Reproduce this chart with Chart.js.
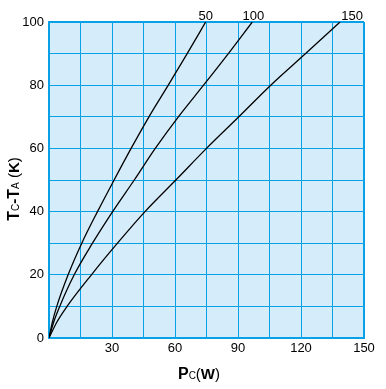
<!DOCTYPE html>
<html>
<head>
<meta charset="utf-8">
<script src="https://cdn.jsdelivr.net/npm/chart.js@4"></script>
<style>
    html, body { margin: 0; padding: 0; background: #fff; }
    #wrap { width: 386px; height: 389px; }
</style>
</head>
<body>
<div id="wrap"><canvas id="chart"></canvas></div>
<script>
// Data
const tempRise = [0, 5, 10, 20, 30, 40, 50, 60, 70, 80, 90, 100];
const power50 = [0, 1.6, 3.7, 9.1, 15.6, 23.1, 31, 39.1, 47.6, 56.8, 65.8, 74.6];
const power100 = [0, 2.2, 5.1, 12, 20.7, 30.3, 40.6, 50.6, 61.6, 73.6, 85.4, 96.8];
const power150 = [0, 3.7, 8.6, 20.2, 32.6, 45.7, 60.4, 75, 90.4, 105.6, 122.2, 138.6];
const curveNames = ['50', '100', '150'];
const xTickLabels = [30, 60, 90, 120, 150];
const yTickLabels = [0, 20, 40, 60, 80, 100];

const FONT = '"Liberation Sans", Arial, sans-serif';

function toPoints(px) {
    return px.map(function(p, i) { return { x: p, y: tempRise[i] }; });
}

const series = [power50, power100, power150];

// Background of the plot area
const plotBg = {
    id: 'plotBg',
    beforeDraw: function(chart) {
        const a = chart.chartArea;
        const ctx = chart.ctx;
        ctx.save();
        ctx.fillStyle = '#d5edfa';
        ctx.fillRect(a.left, a.top, a.right - a.left, a.bottom - a.top);
        ctx.restore();
    }
};

// draws text pieces one after the other: [text, font]
function drawPieces(ctx, pieces, x, y) {
    let total = 0;
    pieces.forEach(function(p) { ctx.font = p[1]; total += ctx.measureText(p[0]).width; });
    let cx = x - total / 2;
    pieces.forEach(function(p) {
        ctx.font = p[1];
        ctx.fillText(p[0], cx, y);
        cx += ctx.measureText(p[0]).width;
    });
}

const labels = {
    id: 'labels',
    afterDraw: function(chart) {
        const ctx = chart.ctx;
        const xs = chart.scales.x;
        const ys = chart.scales.y;
        ctx.save();
        ctx.fillStyle = '#000';
        ctx.textBaseline = 'alphabetic';

        // curve names above the top
        const offsets = [0, 1, 12];
        ctx.textAlign = 'center';
        ctx.font = '13px ' + FONT;
        series.forEach(function(s, i) {
            const px = xs.getPixelForValue(s[s.length - 1]) + offsets[i];
            ctx.fillText(curveNames[i], px, ys.getPixelForValue(100) - 2.5);
        });
        ctx.textAlign = 'left';

        // x axis title
        drawPieces(ctx, [
            ['P', 'bold 16px ' + FONT],
            ['C', '10px ' + FONT],
            ['(', '15px ' + FONT],
            ['W', 'bold 15px ' + FONT],
            [')', '15px ' + FONT]
        ], 199, 378.5);

        // y axis title
        ctx.translate(18.5, 189);
        ctx.rotate(-Math.PI / 2);
        drawPieces(ctx, [
            ['T', 'bold 16px ' + FONT],
            ['C', '10px ' + FONT],
            ['-', 'bold 15px ' + FONT],
            ['T', 'bold 16px ' + FONT],
            ['A', '10px ' + FONT],
            [' (', '15px ' + FONT],
            ['K', 'bold 15px ' + FONT],
            [')', '15px ' + FONT]
        ], 0, 0);
        ctx.restore();
    }
};

const gridBlue = '#08a0e6';

function edgeWidth(ctx) {
    const n = ctx.scale.ticks.length;
    return (ctx.index === 0 || ctx.index === n - 1) ? 2 : 1;
}

new Chart(document.getElementById('chart'), {
    type: 'line',
    data: {
        datasets: series.map(function(s, i) {
            return {
                label: curveNames[i],
                data: toPoints(s),
                borderColor: '#000',
                borderWidth: 1.3,
                pointRadius: 0,
                fill: false,
                cubicInterpolationMode: 'monotone'
            };
        })
    },
    plugins: [plotBg, labels],
    options: {
        responsive: true,
        maintainAspectRatio: false,
        animation: false,
        layout: { padding: { left: 0, top: 22, right: 22, bottom: 0 } },
        plugins: {
            legend: { display: false },
            tooltip: { enabled: false }
        },
        scales: {
            x: {
                type: 'linear',
                min: 0,
                max: 150,
                afterFit: function(scale) { scale.height = 51; },
                grid: { color: gridBlue, lineWidth: edgeWidth, drawTicks: false },
                border: { color: gridBlue, width: 2 },
                ticks: {
                    stepSize: 15,
                    padding: 3,
                    maxRotation: 0,
                    autoSkip: false,
                    color: '#000',
                    font: { family: FONT, size: 13 },
                    callback: function(v) { return xTickLabels.includes(v) ? String(v) : ''; }
                }
            },
            y: {
                min: 0,
                max: 100,
                afterFit: function(scale) { scale.width = 49; },
                grid: { color: gridBlue, lineWidth: edgeWidth, drawTicks: false },
                border: { color: gridBlue, width: 2 },
                ticks: {
                    stepSize: 10,
                    padding: 5,
                    autoSkip: false,
                    color: '#000',
                    font: { family: FONT, size: 13 },
                    callback: function(v) { return yTickLabels.includes(v) ? String(v) : ''; }
                }
            }
        }
    }
});
</script>
</body>
</html>
